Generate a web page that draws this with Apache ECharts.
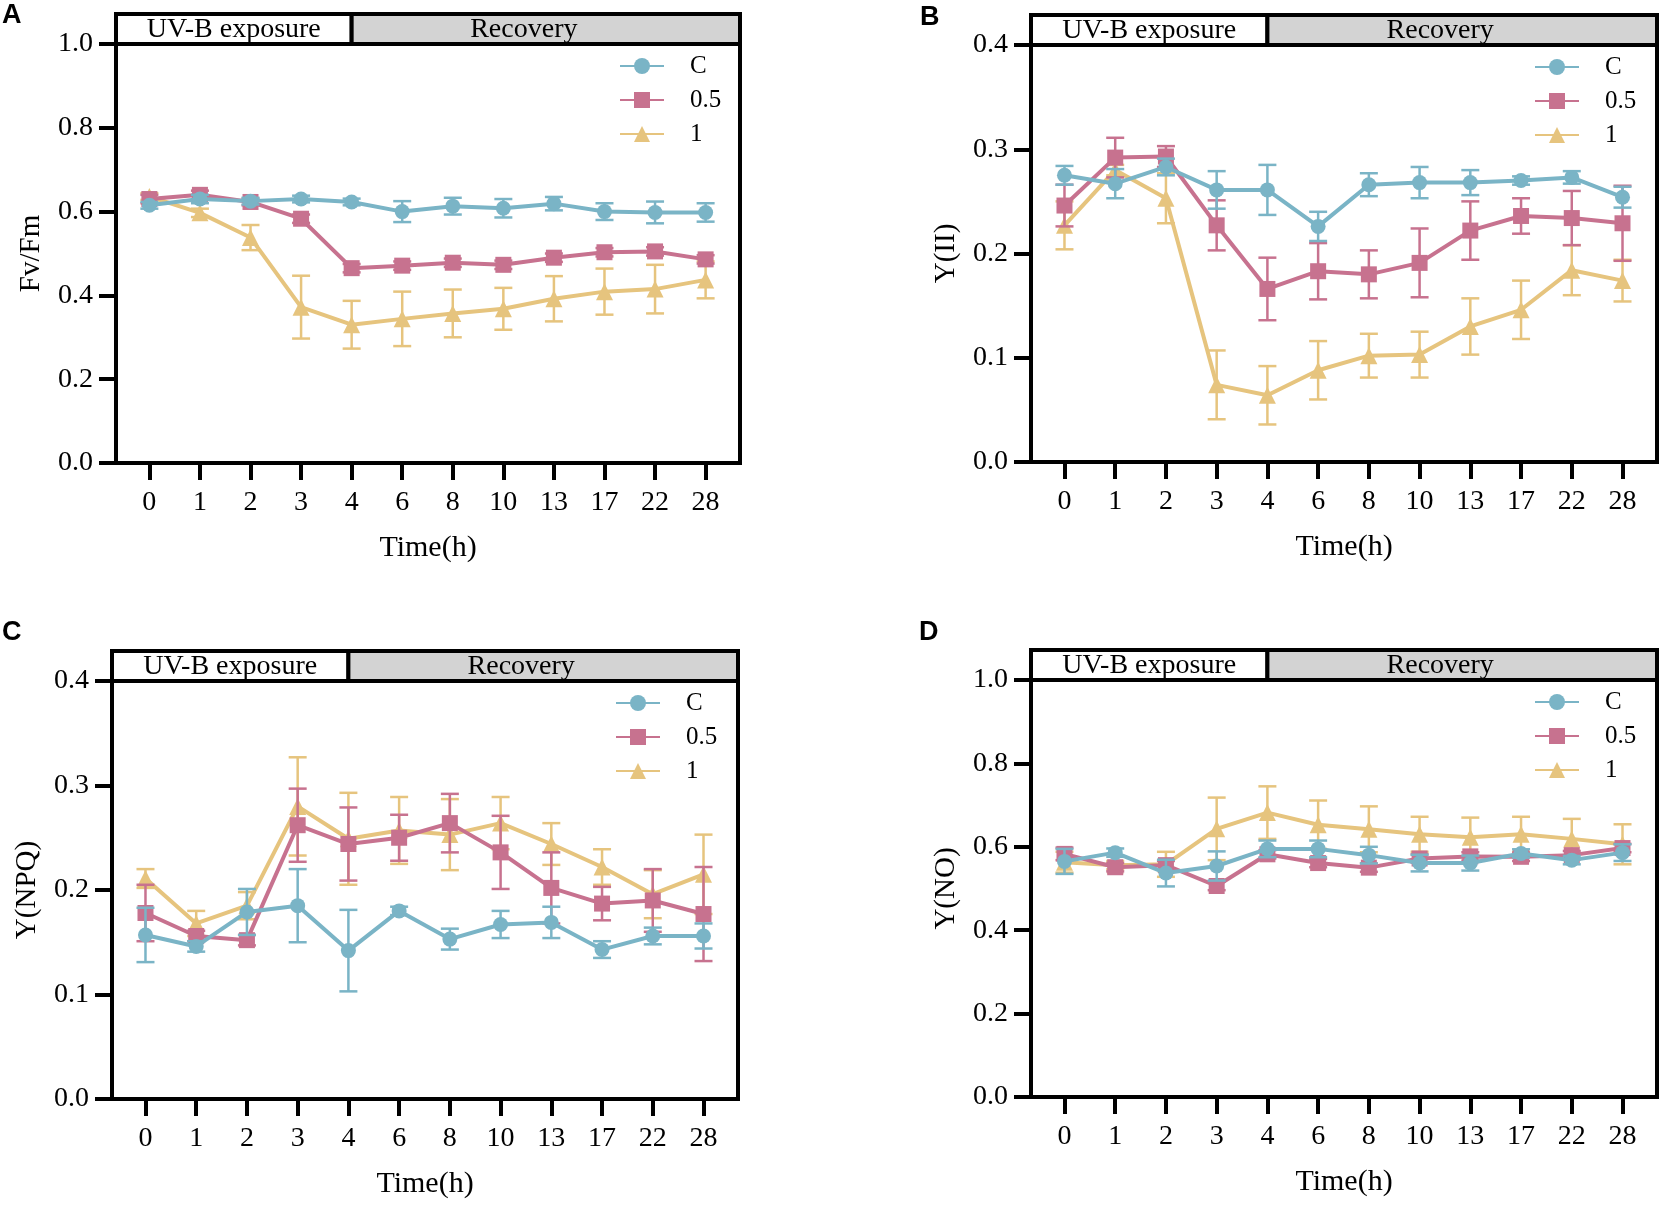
<!DOCTYPE html>
<html>
<head>
<meta charset="utf-8">
<script src="https://cdn.jsdelivr.net/npm/echarts@6/dist/echarts.min.js"></script>
<style>
  html, body { margin: 0; padding: 0; background: #fff; }
  #chart { width: 1663px; height: 1205px; }
</style>
</head>
<body>
<div id="chart"></div>
<script>
// ---------- data ----------
const categories = ['0', '1', '2', '3', '4', '6', '8', '10', '13', '17', '22', '28'];
const seriesNames = ['C', '0.5', '1'];
const panelLetters = ['A', 'B', 'C', 'D'];
const yTitles = ['Fv/Fm', 'Y(II)', 'Y(NPQ)', 'Y(NO)'];
const xTitle = 'Time(h)';
const headerLabels = ['UV-B exposure', 'Recovery'];
const exposureEndIndex = 4;
const yMaxes = [1.0, 0.4, 0.4, 1.0];
const yIntervals = [0.2, 0.1, 0.1, 0.2];

// Panel A: Fv/Fm
const fvfmC     = [0.615, 0.630, 0.625, 0.630, 0.623, 0.600, 0.613, 0.608, 0.619, 0.600, 0.598, 0.598];
const fvfmCErr  = [0.008, 0.010, 0.008, 0.008, 0.008, 0.025, 0.020, 0.022, 0.016, 0.020, 0.026, 0.022];
const fvfm05    = [0.630, 0.640, 0.623, 0.583, 0.465, 0.471, 0.478, 0.473, 0.490, 0.503, 0.505, 0.486];
const fvfm05Err = [0.010, 0.010, 0.008, 0.010, 0.010, 0.010, 0.010, 0.010, 0.010, 0.010, 0.010, 0.010];
const fvfm1     = [0.636, 0.597, 0.538, 0.372, 0.330, 0.344, 0.357, 0.368, 0.392, 0.409, 0.415, 0.437];
const fvfm1Err  = [0.008, 0.010, 0.030, 0.075, 0.057, 0.065, 0.057, 0.050, 0.054, 0.055, 0.058, 0.044];

// Panel B: Y(II)
const yiiC      = [0.275, 0.267, 0.283, 0.261, 0.261, 0.226, 0.266, 0.268, 0.268, 0.270, 0.273, 0.254];
const yiiCErr   = [0.009, 0.014, 0.008, 0.018, 0.024, 0.014, 0.011, 0.015, 0.012, 0.004, 0.006, 0.010];
const yii05     = [0.246, 0.292, 0.293, 0.227, 0.166, 0.183, 0.180, 0.191, 0.222, 0.236, 0.234, 0.229];
const yii05Err  = [0.020, 0.019, 0.010, 0.024, 0.030, 0.027, 0.023, 0.033, 0.028, 0.017, 0.026, 0.036];
const yii1      = [0.227, 0.280, 0.253, 0.074, 0.064, 0.088, 0.102, 0.103, 0.130, 0.146, 0.184, 0.174];
const yii1Err   = [0.023, 0.005, 0.024, 0.033, 0.028, 0.028, 0.021, 0.022, 0.027, 0.028, 0.024, 0.020];

// Panel C: Y(NPQ)
const npqC      = [0.157, 0.146, 0.179, 0.185, 0.142, 0.180, 0.153, 0.167, 0.169, 0.143, 0.156, 0.156];
const npqCErr   = [0.026, 0.005, 0.022, 0.035, 0.039, 0.004, 0.010, 0.013, 0.015, 0.008, 0.008, 0.012];
const npq05     = [0.178, 0.156, 0.152, 0.262, 0.244, 0.250, 0.264, 0.236, 0.202, 0.187, 0.190, 0.177];
const npq05Err  = [0.027, 0.005, 0.005, 0.035, 0.035, 0.022, 0.028, 0.035, 0.034, 0.016, 0.030, 0.045];
const npq1      = [0.211, 0.168, 0.185, 0.280, 0.249, 0.257, 0.253, 0.264, 0.244, 0.222, 0.196, 0.215];
const npq1Err   = [0.009, 0.012, 0.013, 0.047, 0.044, 0.032, 0.034, 0.025, 0.020, 0.017, 0.023, 0.038];

// Panel D: Y(NO)
const noC       = [0.565, 0.586, 0.537, 0.554, 0.595, 0.595, 0.580, 0.561, 0.561, 0.584, 0.568, 0.586];
const noCErr    = [0.030, 0.010, 0.032, 0.035, 0.020, 0.020, 0.020, 0.020, 0.018, 0.010, 0.010, 0.020];
const no05      = [0.583, 0.551, 0.556, 0.506, 0.582, 0.561, 0.550, 0.572, 0.577, 0.576, 0.580, 0.597];
const no05Err   = [0.015, 0.010, 0.010, 0.010, 0.010, 0.010, 0.010, 0.010, 0.010, 0.010, 0.010, 0.010];
const no1       = [0.563, 0.556, 0.558, 0.643, 0.682, 0.653, 0.642, 0.630, 0.623, 0.630, 0.619, 0.606];
const no1Err    = [0.025, 0.010, 0.030, 0.075, 0.063, 0.058, 0.055, 0.042, 0.047, 0.042, 0.048, 0.048];

const panelMeans = [
  [fvfmC, fvfm05, fvfm1],
  [yiiC, yii05, yii1],
  [npqC, npq05, npq1],
  [noC, no05, no1]
];
const panelErrs = [
  [fvfmCErr, fvfm05Err, fvfm1Err],
  [yiiCErr, yii05Err, yii1Err],
  [npqCErr, npq05Err, npq1Err],
  [noCErr, no05Err, no1Err]
];

// ---------- styles ----------
const colors = ['#7AB4C6', '#C7728F', '#E6C47E'];
const symbols = ['circle', 'rect', 'triangle'];
const symbolSizes = [15, 16, 17];
const SERIF = 'Liberation Serif';
const grids = [
  { left: 116, top: 44, width: 624, height: 419 },
  { left: 1031, top: 45, width: 626, height: 417 },
  { left: 112, top: 681, width: 626, height: 418 },
  { left: 1031, top: 680, width: 626, height: 417 }
];
const letterPos = [[2, 2], [920, 4], [2, 619], [919, 619]];
const idx = categories.map((c, i) => i);

const chart = echarts.init(document.getElementById('chart'), null, { renderer: 'canvas' });

const option = {
  animation: false,
  backgroundColor: '#fff',
  title: panelLetters.map((t, i) => ({
    text: t, left: letterPos[i][0], top: letterPos[i][1], padding: 0,
    textStyle: { fontFamily: 'Liberation Sans', fontWeight: 'bold', fontSize: 27, color: '#000' }
  })),
  grid: grids.map(g => Object.assign({ show: true, borderColor: '#000', borderWidth: 4, backgroundColor: 'transparent', containLabel: false }, g)),
  legend: grids.map((g, i) => ({
    orient: 'vertical',
    left: g.left + 503,
    top: g.top + 5,
    data: seriesNames.slice(),
    itemWidth: 44,
    itemHeight: 20,
    itemGap: 0,
    padding: 0,
    selectedMode: false,
    textStyle: { fontFamily: SERIF, fontSize: 25, color: '#000', lineHeight: 34, padding: [0, 0, 0, 21] }
  })),
  xAxis: grids.map((g, i) => ({
    type: 'value', gridIndex: i, min: -0.66, max: 11.68,
    name: xTitle, nameLocation: 'middle', nameGap: 70,
    nameTextStyle: { fontFamily: SERIF, fontSize: 30, color: '#000' },
    axisLine: { show: true, onZero: false, lineStyle: { color: '#000', width: 4 } },
    axisTick: { show: true, customValues: idx, length: 17, lineStyle: { color: '#000', width: 4 } },
    axisLabel: { show: true, customValues: idx, margin: 26, fontFamily: SERIF, fontSize: 28, color: '#000',
                 formatter: v => categories[Math.round(v)] },
    splitLine: { show: false }
  })),
  yAxis: grids.map((g, i) => ({
    type: 'value', gridIndex: i, min: 0, max: yMaxes[i], interval: yIntervals[i],
    name: yTitles[i], nameLocation: 'middle', nameGap: 70,
    nameTextStyle: { fontFamily: SERIF, fontSize: 29, color: '#000' },
    axisLine: { show: true, onZero: false, lineStyle: { color: '#000', width: 4 } },
    axisTick: { show: true, length: 17, lineStyle: { color: '#000', width: 4 } },
    axisLabel: { show: true, margin: 23, fontFamily: SERIF, fontSize: 28, color: '#000',
                 formatter: v => v.toFixed(1) },
    splitLine: { show: false }
  })),
  series: []
};

// header boxes (UV-B exposure / Recovery) placed through the axis scale
grids.forEach((g, gi) => {
  option.series.push({
    type: 'custom', xAxisIndex: gi, yAxisIndex: gi, silent: true, clip: false, z: 10,
    data: [[exposureEndIndex, 0]],
    renderItem: (params, api) => {
      const cs = params.coordSys;
      const xd = api.coord([api.value(0), 0])[0];
      const h = 30;
      const top = cs.y - h;
      const right = cs.x + cs.width;
      return {
        type: 'group',
        children: [
          { type: 'rect', shape: { x: cs.x, y: top, width: xd - cs.x, height: h },
            style: { fill: '#ffffff', stroke: '#000', lineWidth: 4 } },
          { type: 'rect', shape: { x: xd, y: top, width: right - xd, height: h },
            style: { fill: '#d3d3d3', stroke: '#000', lineWidth: 4 } },
          { type: 'text', style: { text: headerLabels[0], x: (cs.x + xd) / 2, y: top + h / 2 + 1,
            align: 'center', verticalAlign: 'middle', font: '28px "' + SERIF + '"', fill: '#000' } },
          { type: 'text', style: { text: headerLabels[1], x: (xd + right) / 2 - 22, y: top + h / 2 + 1,
            align: 'center', verticalAlign: 'middle', font: '28px "' + SERIF + '"', fill: '#000' } }
        ]
      };
    }
  });
});

// data series: drawn yellow first, then pink, then teal on top
grids.forEach((g, gi) => {
  [2, 1, 0].forEach((si, order) => {
    const means = panelMeans[gi][si];
    const errs = panelErrs[gi][si];
    const zval = 3 + order;
    option.series.push({
      type: 'custom', name: seriesNames[si] + ' error', xAxisIndex: gi, yAxisIndex: gi, silent: true, z: zval,
      data: means.map((m, i) => [i, m, errs[i]]),
      renderItem: (params, api) => {
        const x = api.value(0), m = api.value(1), e = api.value(2);
        const hi = api.coord([x, m + e]);
        const lo = api.coord([x, m - e]);
        const w = 9;
        const st = { stroke: colors[si], lineWidth: 2.5 };
        return {
          type: 'group',
          children: [
            { type: 'line', shape: { x1: hi[0], y1: hi[1], x2: lo[0], y2: lo[1] }, style: st },
            { type: 'line', shape: { x1: hi[0] - w, y1: hi[1], x2: hi[0] + w, y2: hi[1] }, style: st },
            { type: 'line', shape: { x1: lo[0] - w, y1: lo[1], x2: lo[0] + w, y2: lo[1] }, style: st }
          ]
        };
      }
    });
    option.series.push({
      type: 'line', name: seriesNames[si], xAxisIndex: gi, yAxisIndex: gi, z: zval,
      data: means.map((m, i) => [i, m]),
      symbol: symbols[si], symbolSize: symbolSizes[si],
      lineStyle: { color: colors[si], width: 4 },
      itemStyle: { color: colors[si] },
      emphasis: { disabled: true }
    });
  });
});

chart.setOption(option);
</script>
</body>
</html>
